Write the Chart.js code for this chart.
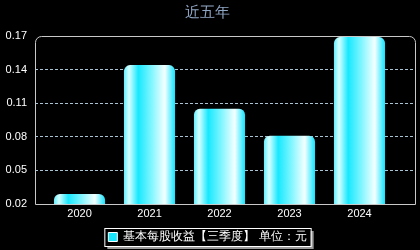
<!DOCTYPE html>
<html>
<head>
<meta charset="utf-8">
<script src="https://cdn.jsdelivr.net/npm/chart.js@4/dist/chart.umd.min.js"></script>
<style>
  html, body { margin: 0; padding: 0; background: #000; }
  #wrap { width: 420px; height: 250px; position: relative; }
</style>
</head>
<body>
<div id="wrap"><canvas id="c"></canvas></div>
<script>
// ── DATA ──
const years = ['2020', '2021', '2022', '2023', '2024'];
const eps = [0.029, 0.144, 0.105, 0.081, 0.169];
const yTicks = [0.02, 0.05, 0.08, 0.11, 0.14, 0.17];
const seriesName = '基本每股收益【三季度】 单位：元';
const titleText = '近五年';

const FONT = "'Liberation Sans', Arial, sans-serif";
const BAR_PCT = 0.73;

// horizontal shine per bar, from the x scale
function barFill(c) {
  const chart = c.chart;
  const xs = chart.scales.x;
  if (!xs || !chart.chartArea || c.dataIndex === undefined) return '#18e8ff';
  const cx = xs.getPixelForValue(c.dataIndex);
  const w = (xs.getPixelForValue(1) - xs.getPixelForValue(0)) * BAR_PCT;
  const g = chart.ctx.createLinearGradient(cx - w / 2, 0, cx + w / 2, 0);
  g.addColorStop(0, '#60f0ff');
  g.addColorStop(0.1, '#d8ffff');
  g.addColorStop(0.28, '#18e8ff');
  g.addColorStop(0.5, '#70f4ff');
  g.addColorStop(0.8, '#f4ffff');
  g.addColorStop(1, '#10e4ff');
  return g;
}

// ── PLOT FRAME + LEGEND BOX ──
const frame = {
  id: 'frame',
  afterLayout(chart) {
    // nudge the legend a few px lower (hit boxes follow legend.top)
    const lg = chart.legend;
    if (!lg) return;
    lg.top += 3;
    lg.bottom += 3;
  },
  afterDatasetsDraw(chart) {
    const { ctx, chartArea: a } = chart;
    ctx.save();
    ctx.strokeStyle = '#c8c8c8';
    ctx.lineWidth = 1;
    ctx.beginPath();
    ctx.roundRect(a.left + 0.5, a.top + 0.5, a.right - a.left, a.bottom - a.top, [6, 6, 0, 0]);
    ctx.stroke();
    ctx.restore();
  },
  beforeDraw(chart) {
    const lg = chart.legend;
    if (!lg || !lg.legendHitBoxes || !lg.legendHitBoxes.length) return;
    const hb = lg.legendHitBoxes[0];
    const ctx = chart.ctx;
    const x = hb.left - 4, y = hb.top - 3, w = hb.width + 8, h = hb.height + 6;
    ctx.save();
    ctx.fillStyle = '#9a9a9a';
    ctx.fillRect(x + 3, y + 3, w, h);
    ctx.fillStyle = '#000';
    ctx.fillRect(x, y, w, h);
    ctx.strokeStyle = '#ffffff';
    ctx.lineWidth = 1;
    ctx.strokeRect(x + 0.5, y + 0.5, w, h);
    ctx.restore();
  }
};

new Chart(document.getElementById('c'), {
  type: 'bar',
  data: {
    datasets: [{
      label: seriesName,
      data: eps.map((v, i) => ({ x: i, y: v })),
      backgroundColor: barFill,
      borderWidth: 0,
      borderRadius: 6,
      borderSkipped: 'start',
      barPercentage: BAR_PCT,
      categoryPercentage: 1,
    }]
  },
  options: {
    responsive: true,
    maintainAspectRatio: false,
    animation: false,
    layout: { padding: { left: 0, right: 5, top: 0, bottom: 0 } },
    plugins: {
      title: {
        display: true,
        text: titleText,
        color: '#8fa6c4',
        font: { family: FONT, size: 15, weight: 'normal' },
        padding: { top: 4, bottom: 14 }
      },
      legend: {
        position: 'bottom',
        labels: {
          color: '#ffffff',
          font: { family: FONT, size: 12 },
          boxWidth: 9,
          boxHeight: 9,
          padding: 2,
          generateLabels: chart => [{
            text: seriesName,
            fillStyle: '#18e8ff',
            strokeStyle: '#ffffff',
            lineWidth: 1,
            fontColor: '#ffffff',
            datasetIndex: 0
          }]
        }
      },
      tooltip: { enabled: false }
    },
    scales: {
      x: {
        type: 'linear',
        min: -0.636,
        max: 4.793,
        offset: false,
        grid: { display: false, drawTicks: false },
        border: { display: false },
        afterBuildTicks: s => { s.ticks = years.map((y, i) => ({ value: i })); },
        ticks: {
          color: '#ffffff',
          font: { family: FONT, size: 11 },
          padding: 3,
          autoSkip: false,
          maxRotation: 0,
          callback: v => years[v]
        },
        afterFit: s => { s.height = 22; }
      },
      y: {
        min: 0.02,
        max: 0.17,
        afterFit: s => { s.width = 35; },
        afterBuildTicks: s => { s.ticks = yTicks.map(v => ({ value: v })); },
        border: { display: false, dash: [3, 2] },
        grid: {
          color: ctx => (ctx.tick && (ctx.tick.value === 0.02 || ctx.tick.value === 0.17)) ? 'rgba(0,0,0,0)' : '#a8c4d4',
          lineWidth: 1,
          drawTicks: false
        },
        ticks: {
          color: '#ffffff',
          font: { family: FONT, size: 11 },
          padding: 8,
          callback: v => v.toFixed(2)
        }
      }
    }
  },
  plugins: [frame]
});
</script>
</body>
</html>
